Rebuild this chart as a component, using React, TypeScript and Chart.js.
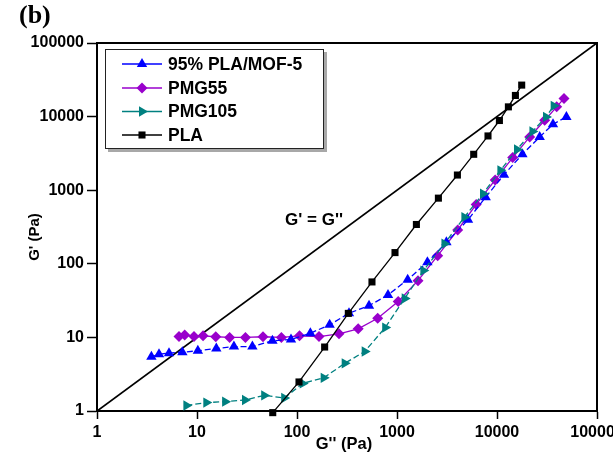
import React, { useEffect, useRef } from "react";
import { Chart, registerables } from "chart.js";

Chart.register(...registerables);

// ---- data ----
const xTickValues = [1, 10, 100, 1000, 10000, 100000];
const yTickValues = [1, 10, 100, 1000, 10000, 100000];

const seriesNames = ["95% PLA/MOF-5", "PMG55", "PMG105", "PLA"];

const mofX = [3.5, 4.17, 5.25, 7.14, 10.2, 15.6, 23.4, 35.8, 56.8, 87.1, 136, 212, 331, 525, 813, 1279, 2014, 3119, 5129, 7709, 11750, 17950, 26730, 36310, 49430];
const mofY = [5.44, 5.92, 6.11, 6.3, 6.57, 7.06, 7.5, 7.5, 9.0, 9.36, 11.4, 14.8, 21.3, 27, 37.7, 60.9, 105, 196, 396, 805, 1627, 3075, 5290, 7880, 9910];

const pmg55X = [6.61, 7.53, 9.33, 11.5, 15.4, 21.2, 30.5, 45.7, 69.8, 106, 166, 263, 409, 641, 1028, 1622, 2553, 4046, 6194, 9594, 14360, 21230, 30000, 39550, 46770];
const pmg55Y = [10.3, 10.75, 10.3, 10.5, 10.2, 10.0, 10.0, 10.2, 10.0, 10.5, 10.25, 11.2, 13.1, 18.2, 30.7, 59, 129, 288, 641, 1381, 2772, 5290, 8930, 13560, 17650];

const pmg105X = [7.83, 12.4, 19.1, 30.2, 47.0, 74.5, 114, 185, 300, 475, 762, 1194, 1836, 2979, 4721, 7244, 10810, 15850, 22600, 30900, 36900];
const pmg105Y = [1.19, 1.3, 1.34, 1.41, 1.63, 1.5, 2.37, 2.82, 4.44, 6.43, 13.6, 33.8, 80.8, 187, 430, 896, 1862, 3573, 6270, 9910, 14000];

const plaX = [57.2, 104.7, 189, 326, 562, 955, 1563, 2594, 4018, 5848, 8128, 10570, 13000, 15280, 17660];
const plaY = [0.95, 2.48, 7.4, 21.2, 56.7, 142, 342, 780, 1607, 3075, 5460, 8850, 13560, 19380, 26790];

const diagX = [1, 100000];
const diagY = [1, 100000];

const FONT = "'Liberation Sans', Arial, sans-serif";

const zip = (xs: number[], ys: number[]) => xs.map((x, i) => ({ x, y: ys[i] }));

const styles = [
  { color: "#0000FF", dash: [6, 3], shape: "triangle", rot: 0, r: 6 },
  { color: "#9900CC", dash: [], shape: "rectRot", rot: 0, r: 5.5 },
  { color: "#008080", dash: [6, 3], shape: "triangle", rot: 90, r: 6 },
  { color: "#000000", dash: [], shape: "rect", rot: 0, r: 5 },
];

function drawMarker(ctx: CanvasRenderingContext2D, shape: string, rot: number, r: number, x: number, y: number, color: string) {
  ctx.save();
  ctx.fillStyle = color;
  ctx.beginPath();
  if (shape === "triangle") {
    let a = (rot * Math.PI) / 180;
    for (let i = 0; i < 3; i++) {
      const px = x + Math.sin(a) * r;
      const py = y - Math.cos(a) * r;
      if (i === 0) ctx.moveTo(px, py);
      else ctx.lineTo(px, py);
      a += (2 * Math.PI) / 3;
    }
    ctx.closePath();
  } else if (shape === "rectRot") {
    ctx.moveTo(x, y - r);
    ctx.lineTo(x + r, y);
    ctx.lineTo(x, y + r);
    ctx.lineTo(x - r, y);
    ctx.closePath();
  } else {
    const s = Math.SQRT1_2 * r;
    ctx.rect(x - s, y - s, 2 * s, 2 * s);
  }
  ctx.fill();
  ctx.restore();
}

const decorPlugin = {
  id: "decor",
  afterDraw(chart: any) {
    const ctx: CanvasRenderingContext2D = chart.ctx;
    const { left, right, top, bottom } = chart.chartArea;
    ctx.save();
    // top & right frame
    ctx.strokeStyle = "#000";
    ctx.lineWidth = 2;
    ctx.beginPath();
    ctx.moveTo(left, top);
    ctx.lineTo(right, top);
    ctx.lineTo(right, bottom);
    ctx.stroke();

    // legend box
    const bx = 105, by = 49, bw = 219, bh = 100;
    ctx.fillStyle = "#A8A8A8";
    ctx.fillRect(bx + 3, by + 3, bw, bh);
    ctx.fillStyle = "#FFFFFF";
    ctx.fillRect(bx, by, bw, bh);
    ctx.strokeStyle = "#222";
    ctx.lineWidth = 1;
    ctx.strokeRect(bx + 0.5, by + 0.5, bw - 1, bh - 1);

    const rows = [64, 88, 111.5, 135];
    ctx.font = `bold 17.5px ${FONT}`;
    ctx.textBaseline = "middle";
    ctx.textAlign = "left";
    seriesNames.forEach((name, i) => {
      const st = styles[i];
      const y = rows[i];
      ctx.strokeStyle = st.color;
      ctx.lineWidth = 1.3;
      ctx.setLineDash([]);
      ctx.beginPath();
      ctx.moveTo(122, y);
      ctx.lineTo(162, y);
      ctx.stroke();
      drawMarker(ctx, st.shape, st.rot, st.r, 142, y, st.color);
      ctx.fillStyle = "#000";
      ctx.fillText(name, 168, y + 1);
    });

    // G' = G'' label
    ctx.fillStyle = "#000";
    ctx.font = `bold 17px ${FONT}`;
    ctx.textAlign = "center";
    ctx.fillText("G' = G''", 314, 220);

    // axis titles
    ctx.font = `bold 16.5px ${FONT}`;
    ctx.fillText("G'' (Pa)", 344, 444);
    ctx.save();
    ctx.translate(35, 237);
    ctx.rotate(-Math.PI / 2);
    ctx.font = `bold 15px ${FONT}`;
    ctx.fillText("G' (Pa)", 0, 0);
    ctx.restore();

    // panel label
    ctx.font = `bold 26px 'Liberation Serif', 'Times New Roman', serif`;
    ctx.textAlign = "left";
    ctx.textBaseline = "alphabetic";
    ctx.fillText("(b)", 19, 23);
    ctx.restore();
  },
};

export default function App() {
  const ref = useRef<HTMLCanvasElement | null>(null);

  useEffect(() => {
    if (!ref.current) return;
    const mk = (i: number, xs: number[], ys: number[], order: number, clip: boolean) => ({
      label: seriesNames[i],
      data: zip(xs, ys),
      showLine: true,
      borderColor: styles[i].color,
      backgroundColor: styles[i].color,
      borderWidth: 1.3,
      borderDash: styles[i].dash,
      pointStyle: styles[i].shape,
      rotation: styles[i].rot,
      pointRadius: styles[i].r,
      pointBorderWidth: 0,
      pointBackgroundColor: styles[i].color,
      order,
      clip: clip ? undefined : false,
    });

    const chart = new Chart(ref.current, {
      type: "scatter",
      data: {
        datasets: [
          mk(3, plaX, plaY, 0, false),
          mk(2, pmg105X, pmg105Y, 1, true),
          mk(0, mofX, mofY, 2, true),
          mk(1, pmg55X, pmg55Y, 3, true),
          {
            label: "diag",
            data: zip(diagX, diagY),
            showLine: true,
            borderColor: "#000",
            borderWidth: 1.8,
            pointRadius: 0,
            order: 4,
          } as any,
        ] as any,
      },
      options: {
        animation: false,
        responsive: false,
        devicePixelRatio: 1,
        layout: { padding: { left: 0, right: 16, top: 43, bottom: 0 } },
        plugins: { legend: { display: false }, tooltip: { enabled: false } },
        scales: {
          x: {
            type: "logarithmic",
            position: "bottom",
            min: 1,
            max: 100000,
            afterBuildTicks: (s: any) => {
              s.ticks = xTickValues.map((v) => ({ value: v }));
            },
            afterFit: (s: any) => {
              s.height = 54;
              s.paddingLeft = 0;
              s.paddingRight = 0;
            },
            ticks: {
              autoSkip: false,
              maxRotation: 0,
              color: "#000",
              padding: 4,
              font: { family: FONT, size: 16, weight: "bold" },
              callback: (v: any) => String(v),
            },
            grid: { drawOnChartArea: false, drawTicks: true, tickLength: 8, tickColor: "#000", tickWidth: 1.5 },
            border: { display: true, color: "#000", width: 2 },
          },
          y: {
            type: "logarithmic",
            position: "left",
            min: 1,
            max: 100000,
            afterBuildTicks: (s: any) => {
              s.ticks = yTickValues.map((v) => ({ value: v }));
            },
            afterFit: (s: any) => {
              s.width = 97;
              s.paddingTop = 0;
              s.paddingBottom = 0;
            },
            ticks: {
              autoSkip: false,
              color: "#000",
              padding: 3,
              font: { family: FONT, size: 16, weight: "bold" },
              callback: (v: any) => String(v),
            },
            grid: { drawOnChartArea: false, drawTicks: true, tickLength: 10, tickColor: "#000", tickWidth: 1.5 },
            border: { display: true, color: "#000", width: 2 },
          },
        },
      } as any,
      plugins: [decorPlugin],
    });
    return () => chart.destroy();
  }, []);

  return (
    <div style={{ position: "absolute", left: 0, top: 0, width: 613, height: 465, background: "#fff" }}>
      <canvas ref={ref} width={613} height={465} style={{ width: 613, height: 465, display: "block" }} />
    </div>
  );
}
